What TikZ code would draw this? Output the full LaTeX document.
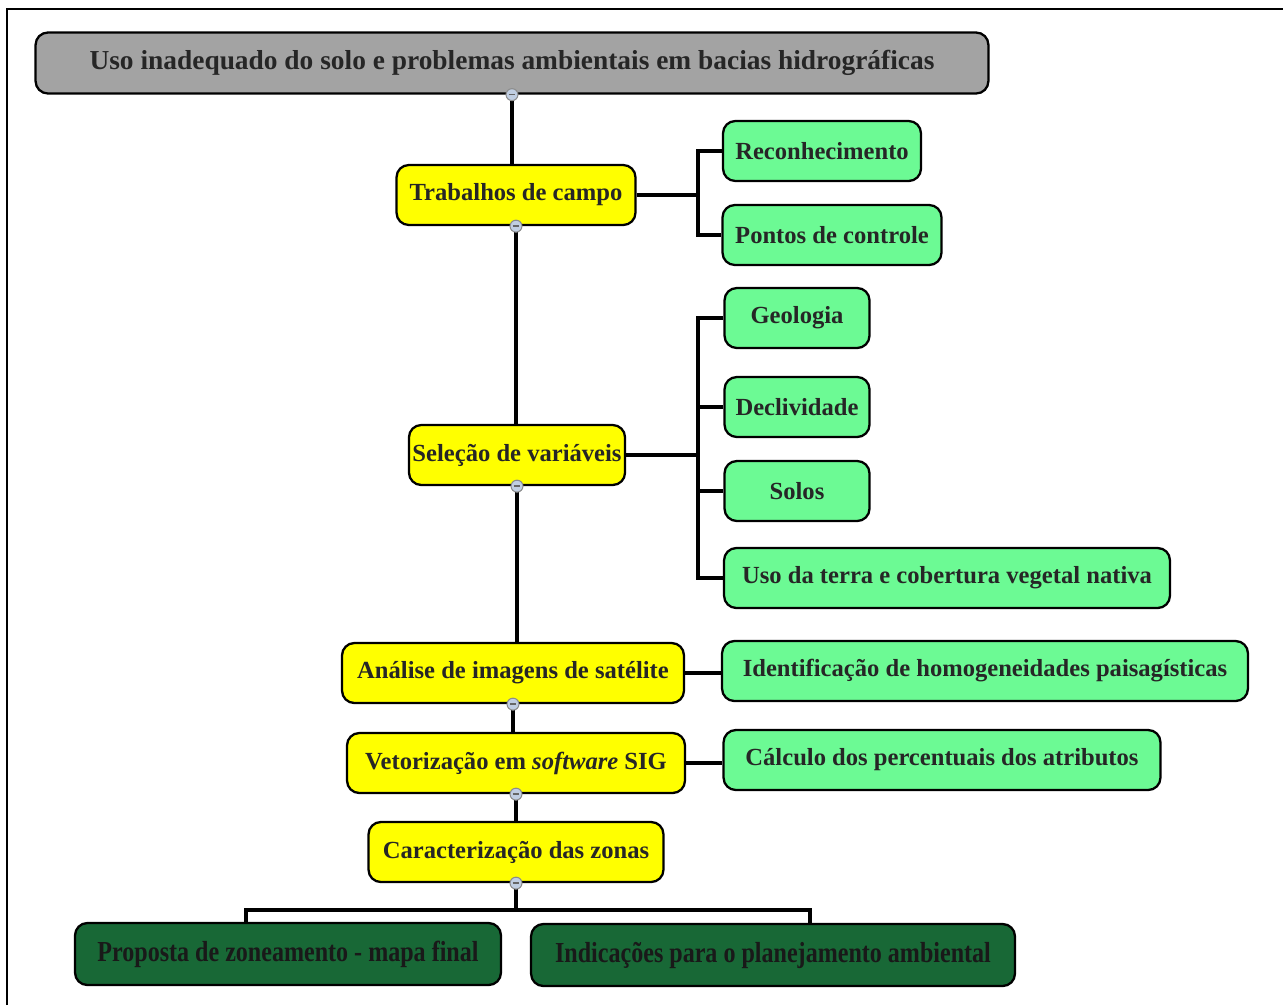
\documentclass[tikz,border=0pt]{standalone}
\usepackage{fontspec}
\setmainfont{Liberation Serif}
\newfontfamily\estreita[FakeStretch=0.83]{Liberation Serif}
\definecolor{cinza}{RGB}{163,163,163}
\definecolor{amarelo}{RGB}{255,255,0}
\definecolor{verdeclaro}{RGB}{108,250,148}
\definecolor{verdeescuro}{RGB}{24,104,54}
\definecolor{botao}{RGB}{192,206,226}

\begin{document}
\begin{tikzpicture}[x=0.02cm, y=-0.02cm,
	every node/.style={font=\bfseries\fontsize{14}{16}\selectfont},
	caixa/.style={draw=black, line width=1.3pt, rounded corners=7pt, minimum height=1.2cm, inner sep=2pt, text=black!85},
	etapa/.style={caixa, fill=amarelo},
	item/.style={caixa, fill=verdeclaro},
	final/.style={caixa, fill=verdeescuro, text=black!90, minimum height=1.24cm, font=\estreita\bfseries\fontsize{16.5}{18}\selectfont},
	linha/.style={line width=2.2pt},
	botao/.style={fill=botao, draw=black!45, line width=0.6pt}]
	\useasboundingbox (0,0) rectangle (1283,1005);
	\draw[line width=1.4pt] (7,1005) -- (7,9) -- (1283,9);

	% eixo principal
	\node[caixa, fill=cinza, minimum width=19.06cm, minimum height=1.22cm, font=\bfseries\fontsize{15.6}{18}\selectfont] (titulo) at (512,63) {Uso inadequado do solo e problemas ambientais em bacias hidrográficas};
	\node[etapa, minimum width=4.78cm] (trabalhos) at (516,195) {Trabalhos de campo};
	\node[etapa, minimum width=4.3cm] (selecao) at (517,455) {Seleção de variáveis};
	\node[etapa, minimum width=6.84cm] (analise) at (513,673) {Análise de imagens de satélite};
	\node[etapa, minimum width=6.76cm] (vetorizacao) at (516,763) {Vetorização em \textit{software} SIG};
	\node[etapa, minimum width=5.9cm] (caracterizacao) at (516,852) {Caracterização das zonas};

	% ramos
	\node[item, minimum width=3.96cm] (reconhecimento) at (822,151) {Reconhecimento};
	\node[item, minimum width=4.38cm] (pontos) at (832,235) {Pontos de controle};
	\node[item, minimum width=2.9cm] (geologia) at (797,318) {Geologia};
	\node[item, minimum width=2.9cm] (declividade) at (797,407) {Declividade};
	\node[item, minimum width=2.9cm] (solos) at (797,491) {Solos};
	\node[item, minimum width=8.92cm] (usoterra) at (947,578) {Uso da terra e cobertura vegetal nativa};
	\node[item, minimum width=10.52cm] (identificacao) at (985,671) {Identificação de homogeneidades paisagísticas};
	\node[item, minimum width=8.74cm] (calculo) at (942,760) {Cálculo dos percentuais dos atributos};

	\node[final, minimum width=8.52cm] (proposta) at (288,954) {Proposta de zoneamento - mapa final};
	\node[final, minimum width=9.68cm] (indicacoes) at (773,955) {Indicações para o planejamento ambiental};

	\coordinate (ramo1) at (698,195);
	\coordinate (ramo2) at (698,455);
	\coordinate (bq) at (246,910);
	\coordinate (bd) at (810,910);

	\draw[linha] (titulo.south) -- (titulo.south |- trabalhos.north);
	\draw[linha] (trabalhos.south) -- (trabalhos.south |- selecao.north);
	\draw[linha] (selecao.south) -- (selecao.south |- analise.north);
	\draw[linha] (analise.south) -- (analise.south |- vetorizacao.north);
	\draw[linha] (vetorizacao.south) -- (caracterizacao.north);
	\draw[linha] (trabalhos.east) -- (ramo1);
	\draw[linha] (reconhecimento.west) -| (ramo1) |- (pontos.west);
	\draw[linha] (selecao.east) -- (ramo2);
	\draw[linha] (geologia.west) -| (ramo2) |- (usoterra.west);
	\draw[linha] (declividade.west) -- (declividade.west -| ramo2);
	\draw[linha] (solos.west) -- (solos.west -| ramo2);
	\draw[linha] (analise.east) -- (analise.east -| identificacao.west);
	\draw[linha] (vetorizacao.east) -- (vetorizacao.east -| calculo.west);
	\draw[linha] (caracterizacao.south) -- (caracterizacao.south |- bq);
	\draw[linha] (bq |- proposta.north) -- (bq) -- (bd) -- (bd |- indicacoes.north);

	% botoes de recolher
	\foreach \n in {titulo,trabalhos,selecao,analise,vetorizacao,caracterizacao}{
		\filldraw[botao] (\n.south) circle (3.4pt);
		\draw[line width=0.9pt, black!60] (\n.south) ++(-1.9pt,0) -- ++(3.8pt,0);
	}
\end{tikzpicture}
\end{document}
